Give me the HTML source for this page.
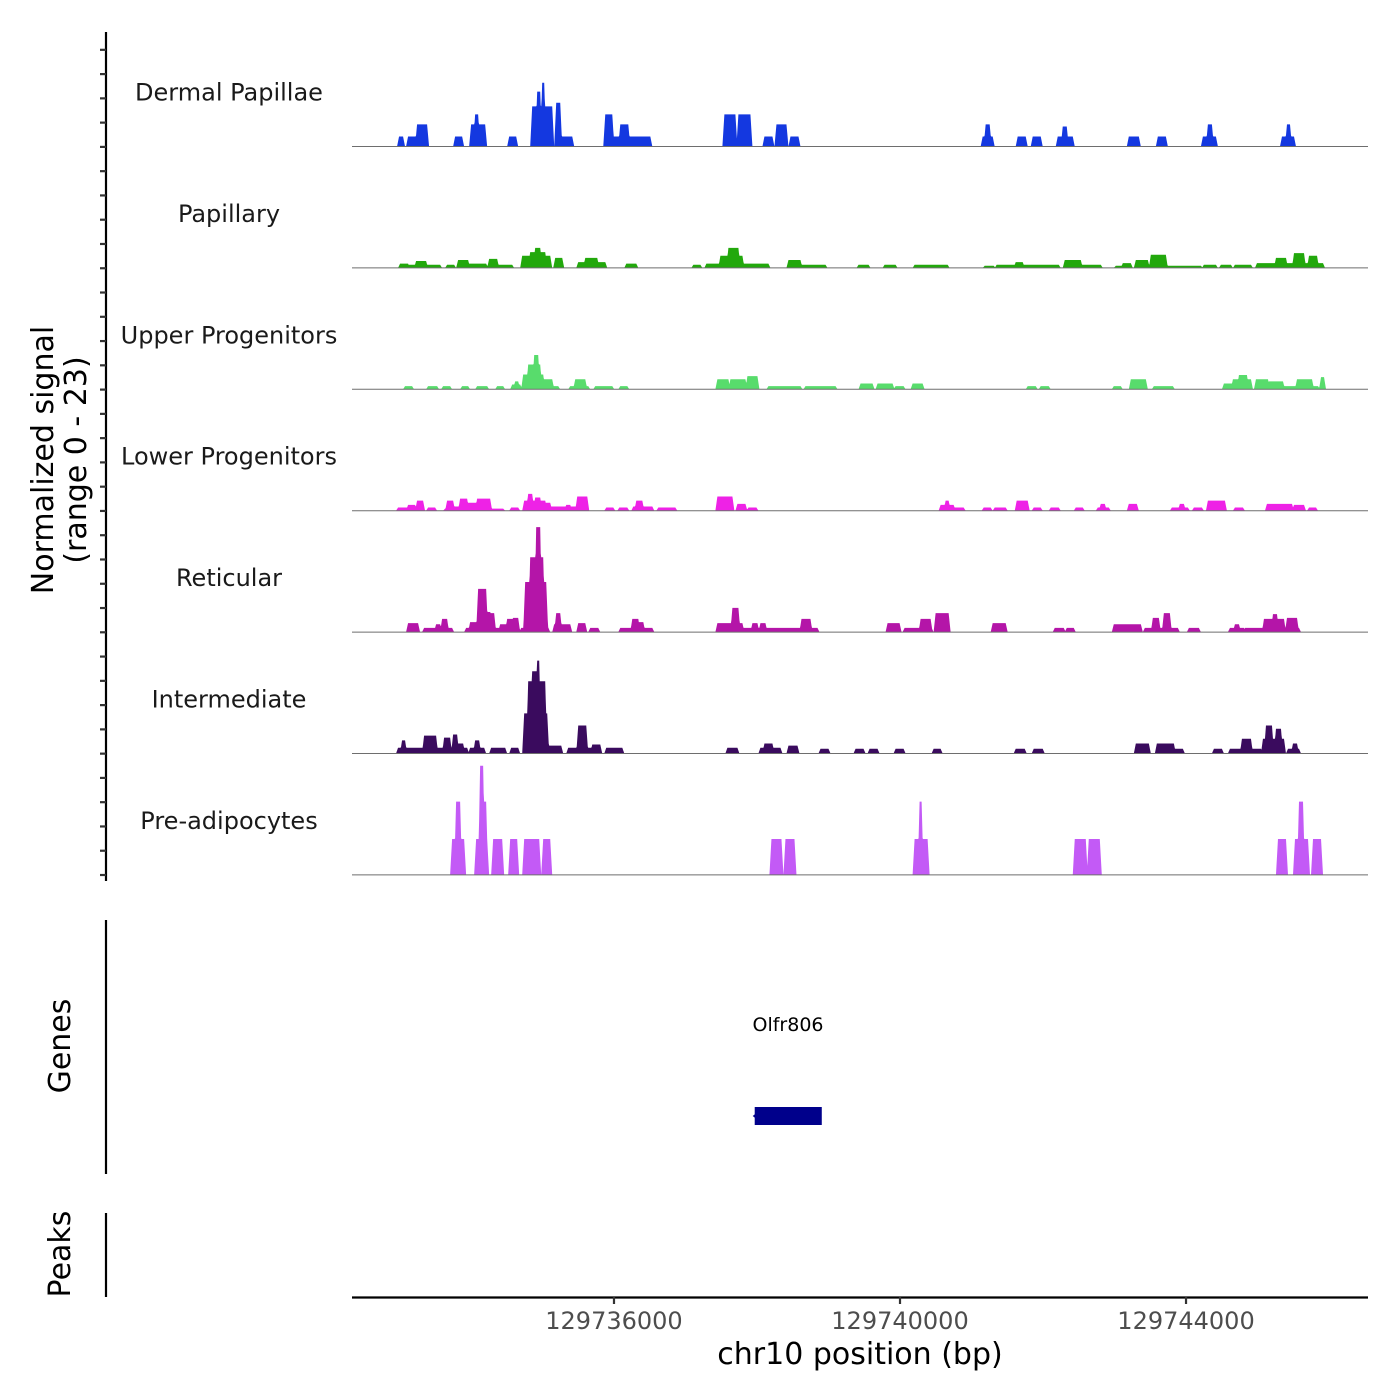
<!DOCTYPE html>
<html><head><meta charset="utf-8">
<style>
html,body{margin:0;padding:0;background:#fff;}
svg{display:block;font-family:"DejaVu Sans","Liberation Sans",sans-serif;}
</style></head>
<body>
<svg id="chart" width="1400" height="1400" viewBox="0 0 1400 1400" xmlns="http://www.w3.org/2000/svg">
<rect x="0" y="0" width="1400" height="1400" fill="#fff"/>
<g id="tracks"></g>
<g id="yaxis">
<line x1="106" y1="32" x2="106" y2="881" stroke="#000" stroke-width="2.2"/>
</g>
<text transform="translate(53,460) rotate(-90)" text-anchor="middle" font-size="30" fill="#000">Normalized signal</text>
<text transform="translate(86,460) rotate(-90)" text-anchor="middle" font-size="30" fill="#000">(range 0 - 23)</text>
<line x1="106" y1="920" x2="106" y2="1174" stroke="#000" stroke-width="2.2"/>
<text transform="translate(70,1046) rotate(-90)" text-anchor="middle" font-size="30" fill="#000">Genes</text>
<text x="788" y="1031" text-anchor="middle" font-size="19" fill="#000">Olfr806</text>
<g id="genes"></g>
<line x1="106" y1="1213" x2="106" y2="1297" stroke="#000" stroke-width="2.2"/>
<text transform="translate(70,1254) rotate(-90)" text-anchor="middle" font-size="30" fill="#000">Peaks</text>
<line x1="352" y1="1297.5" x2="1368" y2="1297.5" stroke="#000" stroke-width="2.2"/>
<g id="xaxis"></g>
<text x="860" y="1364" text-anchor="middle" font-size="30" fill="#000">chr10 position (bp)</text>
</svg>
<script>
// region: chr10 129,732,336 - 129,746,545 ; peak positions are bp offsets from region start
const regionStart = 129732336;
const regionEnd = 129746545;
const xTicks = [129736000, 129740000, 129744000];
const xTickLabels = ["129736000", "129740000", "129744000"];
const signalMax = 23;
const trackNames = ["Dermal Papillae","Papillary","Upper Progenitors","Lower Progenitors","Reticular","Intermediate","Pre-adipocytes"];
const trackColors = ["#1438e0","#22a80c","#58dc6c","#ee22e6","#b415a8","#3a0b5e","#c35af6"];
// each peak: [startOffsetBp, endOffsetBp, signal]
const dermalPapillae = [[658,714,1.9],[784,882,1.9],[840,910,1.9],[910,1050,4.2],[1442,1540,1.9],[1666,1862,4.2],[1722,1764,6.1],[2198,2296,1.9],[2520,2744,7.6],[2590,2632,10.4],[2660,2688,12.1],[2744,2800,7.6],[2856,2912,8.3],[2912,3080,1.9],[3542,3640,6.1],[3640,3752,1.9],[3752,3864,4.2],[3864,4172,1.9],[5208,5362,6.1],[5404,5572,6.1],[5768,5880,1.9],[5936,6076,4.2],[6132,6244,1.9],[8820,8960,1.9],[8862,8918,4.2],[9310,9422,1.9],[9520,9632,1.9],[9870,10080,1.9],[9940,9996,3.8],[10864,11004,1.9],[11270,11382,1.9],[11900,12082,1.9],[11970,12026,4.2],[13006,13174,1.9],[13076,13118,4.2]];
const papillary = [[672,784,0.8],[798,1232,0.6],[896,1036,1.3],[1330,1428,0.6],[1484,1624,1.5],[1624,1876,0.8],[1904,2240,0.6],[1918,2030,1.7],[2380,2772,2.3],[2492,2702,3.0],[2562,2632,3.8],[2842,2940,1.9],[3164,3542,1.1],[3262,3430,1.9],[3836,3976,0.8],[4774,4872,0.6],[4956,5222,0.8],[5152,5460,2.3],[5264,5404,3.8],[5460,5824,0.8],[6104,6272,1.5],[6272,6622,0.6],[7084,7224,0.6],[7448,7602,0.6],[7868,8330,0.6],[8848,8974,0.4],[9016,9884,0.6],[9282,9380,1.1],[9968,10192,1.5],[10192,10472,0.6],[10682,10892,0.4],[10780,10892,0.9],[10962,11130,1.5],[11172,11382,2.5],[11410,11872,0.4],[11914,12082,0.6],[12152,12292,0.6],[12348,12572,0.6],[12656,13580,0.9],[12922,13062,1.9],[13174,13314,2.8],[13384,13496,2.3]];
const upperProgenitors = [[742,840,0.6],[1064,1190,0.6],[1274,1372,0.6],[1540,1624,0.6],[1750,1890,0.6],[2030,2114,0.6],[2240,2352,0.9],[2282,2324,1.5],[2394,2674,2.8],[2464,2632,4.7],[2548,2604,6.5],[2674,2800,1.9],[2800,2884,0.6],[3052,3304,0.6],[3122,3262,1.9],[3402,3640,0.6],[3752,3850,0.6],[5110,5264,1.9],[5292,5502,1.9],[5530,5670,2.5],[5824,6272,0.6],[6342,6762,0.6],[7112,7280,1.1],[7350,7560,1.1],[7602,7714,0.6],[7840,7980,1.1],[9450,9562,0.6],[9632,9744,0.6],[10654,10752,0.6],[10892,11102,1.9],[11214,11480,0.6],[12194,12320,1.1],[12320,12572,1.9],[12404,12516,2.7],[12642,12810,1.9],[12824,13020,1.5],[13020,13510,0.6],[13216,13426,1.9],[13552,13594,2.3]];
const lowerProgenitors = [[644,882,0.6],[784,882,1.1],[910,994,1.9],[1064,1162,0.6],[1302,2114,0.4],[1330,1414,1.9],[1414,1512,0.8],[1512,1610,2.3],[1610,1750,1.5],[1750,1932,2.3],[2226,2324,0.6],[2408,2702,1.9],[2464,2520,3.2],[2562,2632,2.5],[2702,2772,1.5],[2758,3150,0.8],[2996,3052,1.1],[3150,3290,2.7],[3556,3654,0.6],[3738,3850,0.6],[3934,4200,0.8],[3976,4060,1.9],[4284,4522,0.6],[5110,5320,2.7],[5390,5502,1.3],[5544,5656,0.6],[8232,8414,1.1],[8302,8344,1.9],[8414,8554,0.6],[8834,8932,0.6],[8988,9142,0.6],[9296,9450,1.9],[9534,9632,0.6],[9772,9884,0.6],[10122,10220,0.6],[10430,10584,0.6],[10472,10528,1.3],[10864,10976,1.3],[11466,11690,0.6],[11578,11634,1.3],[11774,11886,0.6],[11970,12208,1.9],[12348,12460,0.6],[12796,13146,1.3],[13174,13314,1.1],[13384,13482,0.6]];
const reticular = [[784,924,1.7],[1008,1400,0.8],[1176,1232,1.5],[1260,1330,2.5],[1596,2058,0.8],[1652,1736,1.9],[1764,1876,8.2],[1820,1932,3.8],[1918,1988,3.6],[2072,2324,1.5],[2170,2254,2.5],[2254,2324,2.7],[2366,2422,0.8],[2422,2716,9.5],[2492,2674,14.2],[2576,2632,19.9],[2716,2744,0.9],[2828,3052,1.5],[2856,2912,3.6],[3164,3262,1.7],[3332,3444,0.8],[3752,4200,0.8],[3920,4004,2.5],[4004,4074,1.9],[5110,5460,1.7],[5320,5404,4.6],[5460,6510,0.8],[5600,5670,1.7],[5712,5782,1.7],[6286,6412,2.5],[7490,7658,1.7],[7728,8106,0.8],[7952,8092,2.5],[8162,8344,3.6],[8960,9142,1.7],[9828,9954,0.8],[9996,10094,0.8],[10654,11032,1.5],[11088,11550,0.8],[11200,11284,2.7],[11354,11438,3.6],[11704,11844,0.8],[12278,12474,0.8],[12348,12404,1.5],[12488,13244,0.8],[12754,13034,2.5],[12880,12936,3.4],[13076,13216,2.7]];
const intermediate = [[644,1610,1.1],[700,742,2.5],[1008,1176,3.4],[1288,1372,3.0],[1414,1470,3.6],[1484,1554,1.9],[1652,1848,1.1],[1722,1778,2.5],[1946,2142,1.1],[2226,2324,1.1],[2408,2730,7.6],[2464,2702,13.7],[2520,2590,15.6],[2590,2618,17.6],[2730,2926,1.5],[3024,3472,1.1],[3164,3276,5.3],[3360,3472,1.7],[3556,3780,1.1],[5250,5390,1.1],[5712,5992,1.1],[5768,5880,1.9],[6104,6230,1.5],[6552,6664,0.9],[7042,7154,0.9],[7238,7350,0.9],[7602,7714,0.9],[8134,8232,0.9],[9282,9408,0.9],[9534,9660,0.9],[10962,11144,1.9],[11256,11494,1.9],[11508,11620,0.9],[12054,12166,0.9],[12278,12712,0.9],[12446,12572,2.8],[12740,13034,2.8],[12782,12866,5.3],[12922,12992,4.7],[13090,13244,0.9],[13160,13216,1.9]];
const preAdipocytes = [[1400,1568,6.8],[1456,1512,13.9],[1736,1890,6.8],[1792,1834,20.7],[1834,1876,13.9],[1974,2100,6.8],[2212,2310,6.8],[2408,2618,6.8],[2674,2772,6.8],[5866,6006,6.8],[6062,6188,6.8],[7868,8050,6.8],[7938,7966,13.9],[10108,10262,6.8],[10304,10458,6.8],[12950,13062,6.8],[13188,13370,6.8],[13244,13300,13.9],[13440,13552,6.8]];
const trackData = [dermalPapillae, papillary, upperProgenitors, lowerProgenitors, reticular, intermediate, preAdipocytes];
const geneName = "Olfr806";
const geneStart = 129737968;
const geneEnd = 129738906;

const NS = "http://www.w3.org/2000/svg";
const plotLeft = 352, plotRight = 1368;
const firstBase = 146.5, trackStep = 121.4, trackH = 121.3;
function xScale(bp){ return plotLeft + (bp - regionStart) / (regionEnd - regionStart) * (plotRight - plotLeft); }
function xOff(off){ return xScale(regionStart + off); }
function yScale(v, t){ return firstBase + t*trackStep - v / signalMax * trackH; }
function mk(tag, attrs){ const e = document.createElementNS(NS, tag); for (const k in attrs) e.setAttribute(k, attrs[k]); return e; }

const tracksG = document.getElementById('tracks');
const ramp = 28;
function valueAt(peaks, p){
  let m = 0;
  for (const pk of peaks){
    const s = pk[0], e = pk[1], h = pk[2];
    if (p < s - ramp || p > e + ramp) continue;
    let v = h;
    if (p < s) v = h * (p - (s - ramp)) / ramp;
    else if (p > e) v = h * ((e + ramp) - p) / ramp;
    if (v > m) m = v;
  }
  return m;
}
trackData.forEach((peaks, t) => {
  const base = yScale(0, t);
  const g = mk('g', {});
  
  
  tracksG.appendChild(g);
  let d = 'M' + plotLeft + ',' + base;
  const total = regionEnd - regionStart;
  for (let p = 0; p <= total; p += 7){
    d += 'L' + xOff(p).toFixed(2) + ',' + yScale(valueAt(peaks, p), t).toFixed(2);
  }
  d += 'L' + plotRight + ',' + base + 'Z';
  const area = mk('path', {d: d, fill: trackColors[t]});
  
  
  g.appendChild(area);
  const bl = mk('line', {x1: plotLeft, x2: plotRight, y1: base, y2: base, stroke: '#6e6e6e', 'stroke-width': 1});
  
  
  g.appendChild(bl);
  const lab = mk('text', {x: 229, y: base - 46, 'text-anchor': 'middle', 'font-size': 24, fill: '#1a1a1a'});
  lab.textContent = trackNames[t];
  
  
  g.appendChild(lab);
});
// left ticks
const yaxis = document.getElementById('yaxis');
for (let i = 0; i < 35; i++){
  const y = 875 - i * 24.27;
  const tk = mk('line', {x1: 100, x2: 106, y1: y, y2: y, stroke: '#333', 'stroke-width': 2.2});
  
  
  yaxis.appendChild(tk);
}
// x ticks
const xaxis = document.getElementById('xaxis');
xTicks.forEach((v, i) => {
  const x = xScale(v);
  const tk = mk('line', {x1: x, x2: x, y1: 1297, y2: 1304, stroke: '#333', 'stroke-width': 2.2});
  
  
  xaxis.appendChild(tk);
  const tl = mk('text', {x: x, y: 1329, 'text-anchor': 'middle', 'font-size': 24, fill: '#4d4d4d'});
  tl.textContent = xTickLabels[i];
  
  
  xaxis.appendChild(tl);
});
// gene
const genesG = document.getElementById('genes');
const gx1 = xScale(geneStart), gx2 = xScale(geneEnd);
const gr = mk('rect', {x: gx1, y: 1107, width: gx2 - gx1, height: 18, fill: '#00008b'});


genesG.appendChild(gr);
const ga = mk('path', {d: 'M' + (gx1 - 2) + ',1116 L' + (gx1 + 3) + ',1112 L' + (gx1 + 3) + ',1120 Z', fill: '#00008b'});


genesG.appendChild(ga);
</script>
</body></html>
